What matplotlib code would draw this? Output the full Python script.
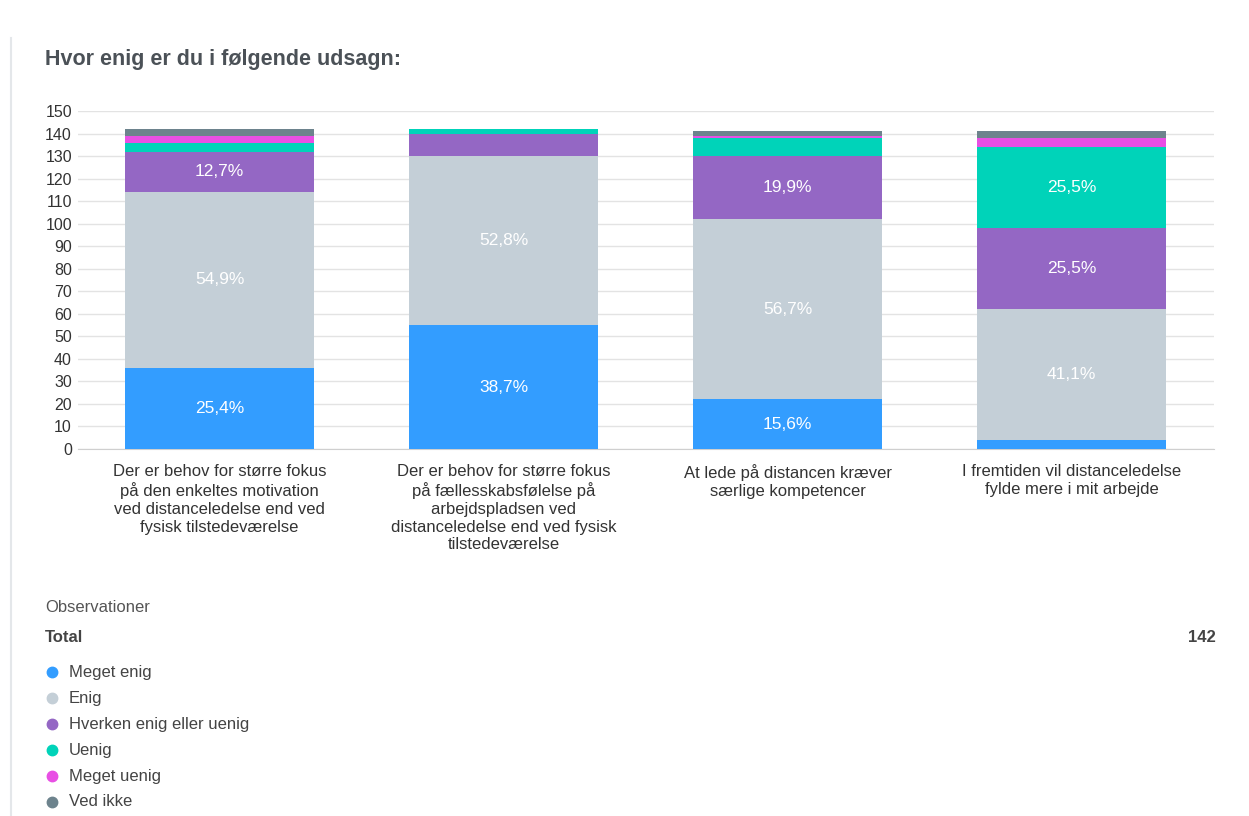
import numpy as np
import matplotlib
matplotlib.use("Agg")
import matplotlib.pyplot as plt
from matplotlib.lines import Line2D

plt.rcParams["font.family"] = ["Liberation Sans", "DejaVu Sans"]

# ── Survey data (counts per answer) ─────────────────────────────────────────
statements = [
    "Der er behov for større fokus\npå den enkeltes motivation\nved distanceledelse end ved\nfysisk tilstedeværelse",
    "Der er behov for større fokus\npå fællesskabsfølelse på\narbejdspladsen ved\ndistanceledelse end ved fysisk\ntilstedeværelse",
    "At lede på distancen kræver\nsærlige kompetencer",
    "I fremtiden vil distanceledelse\nfylde mere i mit arbejde",
]
answers = ["Meget enig", "Enig", "Hverken enig eller uenig", "Uenig",
           "Meget uenig", "Ved ikke"]
meget_enig  = [36, 55, 22, 4]
enig        = [78, 75, 80, 58]
hverken     = [18, 10, 28, 36]
uenig       = [4, 2, 8, 36]
meget_uenig = [3, 0, 1, 4]
ved_ikke    = [3, 0, 2, 3]
total_obs = 142

series = [meget_enig, enig, hverken, uenig, meget_uenig, ved_ikke]
colors = ["#339dff", "#c4cfd7", "#9467c4", "#00d3b9", "#e84fe4", "#6d838d"]

W, H = 1249, 816
fig = plt.figure(figsize=(W / 100, H / 100), dpi=100)
fig.patch.set_facecolor("white")

# card border on the left
fig.add_artist(Line2D([11 / W, 11 / W], [0, 1 - 38 / H], color="#e4e7ea",
                      linewidth=1.5, transform=fig.transFigure))

fig.text(45 / W, 1 - 59 / H, "Hvor enig er du i følgende udsagn:",
         fontsize=15.5, fontweight="bold", color="#4b5157", va="center")

ax = fig.add_axes([77.5 / W, (H - 449) / H, 1136 / W, 338 / H])
x = np.arange(len(statements))
bar_w = 189 / 284

data = np.array(series, dtype=float)
totals = data.sum(axis=0)
bottom = np.zeros(len(statements))
for vals, col in zip(data, colors):
    ax.bar(x, vals, bar_w, bottom=bottom, color=col, linewidth=0, zorder=3)
    for i, v in enumerate(vals):
        share = v / totals[i] * 100
        if share >= 10:
            ax.text(x[i], bottom[i] + v / 2, f"{share:.1f}%".replace(".", ","),
                    ha="center", va="center", color="white", fontsize=12.5,
                    zorder=4)
    bottom += vals

ax.set_xlim(-0.5, len(statements) - 0.5)
ax.set_ylim(0, 150)
ax.set_yticks(np.arange(0, 151, 10))
ax.yaxis.grid(True, color="#e3e3e3", linewidth=1, zorder=0)
ax.set_axisbelow(True)
for s in ["top", "right", "left"]:
    ax.spines[s].set_visible(False)
ax.spines["bottom"].set_color("#cfcfcf")
ax.tick_params(axis="y", length=0, pad=4, labelsize=11.5, labelcolor="#333333")
ax.tick_params(axis="x", length=0, pad=11, labelsize=12, labelcolor="#333333")
ax.set_xticks(x)
ax.set_xticklabels(statements, linespacing=1.22, va="top")

# ── Observations / legend block ─────────────────────────────────────────────
fig.text(45 / W, 1 - 607 / H, "Observationer", fontsize=12, color="#555555",
         va="center")
fig.text(45 / W, 1 - 637 / H, "Total", fontsize=12, fontweight="bold",
         color="#444444", va="center")
fig.text(1216 / W, 1 - 637 / H, str(total_obs), fontsize=12, fontweight="bold",
         color="#444444", va="center", ha="right")
for k, (lab, col) in enumerate(zip(answers, colors)):
    yy = 1 - (672 + 26 * k) / H
    fig.add_artist(Line2D([52 / W], [yy], marker="o", markersize=7.5,
                          color=col, linestyle="none",
                          transform=fig.transFigure))
    fig.text(69 / W, yy, lab, fontsize=12, color="#444444", va="center")

fig.savefig("out.png", dpi=100)
